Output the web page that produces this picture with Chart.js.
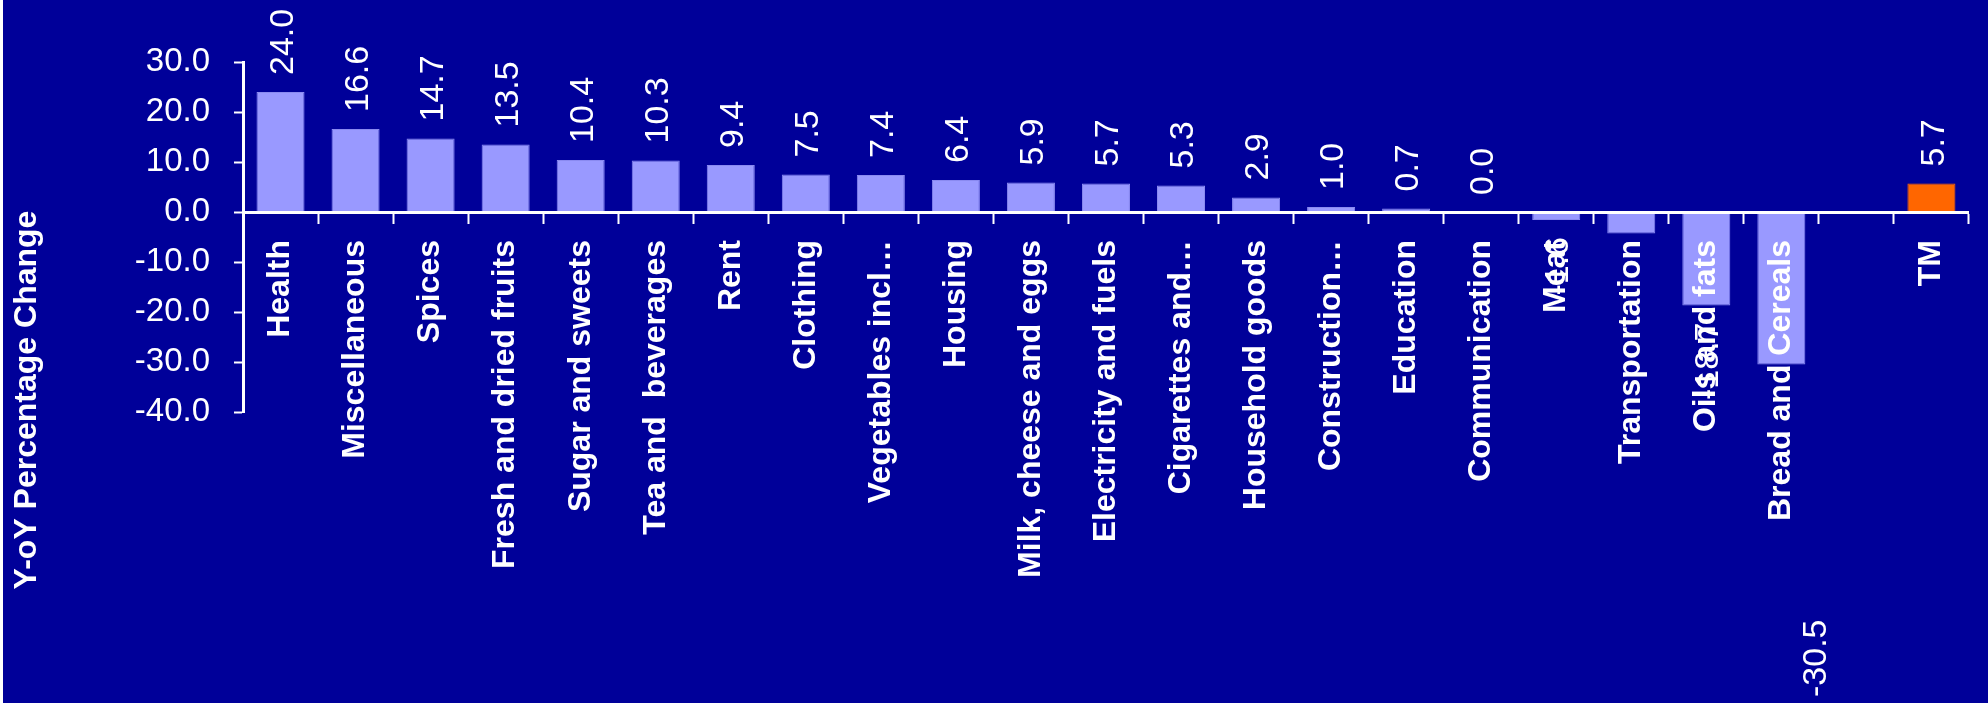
<!DOCTYPE html>
<html>
<head>
<meta charset="utf-8">
<title>Y-oY Percentage Change</title>
<script src="https://cdn.jsdelivr.net/npm/chart.js@4.4.1/dist/chart.umd.min.js"></script>
<style>
  html, body { margin: 0; padding: 0; background: #000099; }
  canvas { display: block; }
</style>
</head>
<body>
<canvas id="cv" width="1988" height="703"></canvas>
<script>
// ---------- Données ----------
const categories = [
  'Health', 'Miscellaneous', 'Spices', 'Fresh and dried fruits', 'Sugar and sweets',
  'Tea and  beverages', 'Rent', 'Clothing', 'Vegetables incl…', 'Housing',
  'Milk, cheese and eggs', 'Electricity and fuels', 'Cigarettes and…', 'Household goods',
  'Construction…', 'Education', 'Communication', 'Meat', 'Transportation',
  'Oils and fats', 'Bread and Cereals', '', 'TM'
];
const values = [
  24.0, 16.6, 14.7, 13.5, 10.4,
  10.3, 9.4, 7.5, 7.4, 6.4,
  5.9, 5.7, 5.3, 2.9,
  1.0, 0.7, 0.0, -1.6, -4.3,
  -18.7, -30.5, null, 5.7
];
const yTicks = [-40, -30, -20, -10, 0, 10, 20, 30];
const yTitle = 'Y-oY Percentage Change';
// catégories dont l'étiquette de valeur n'apparaît pas sur l'image
const hiddenValueLabels = ['Transportation'];

// ---------- Styles ----------
const FONT = "'Liberation Sans', Arial, sans-serif";
const BG = '#000099';
const WHITE = '#FFFFFF';
const barColors = categories.map(c => c === 'TM' ? '#FF6600' : '#9999FF');
const barBorders = categories.map(c => c === 'TM' ? '#FF6600' : '#8A8AF0');

// fond + liseré blanc à gauche + titre de l'axe Y
const backdrop = {
  id: 'backdrop',
  beforeDraw(chart) {
    const { ctx, width, height } = chart;
    ctx.save();
    ctx.fillStyle = BG;
    ctx.fillRect(0, 0, width, height);
    ctx.fillStyle = WHITE;
    ctx.fillRect(0, 0, 3, height);
    ctx.restore();
  },
  afterDraw(chart) {
    const { ctx } = chart;
    ctx.save();
    ctx.translate(36, 400);
    ctx.rotate(-Math.PI / 2);
    ctx.font = `bold 32px ${FONT}`;
    ctx.fillStyle = WHITE;
    ctx.textAlign = 'center';
    ctx.textBaseline = 'alphabetic';
    ctx.fillText(yTitle, 0, 0);
    ctx.restore();
  }
};

// étiquettes de valeur verticales
const valueLabels = {
  id: 'valueLabels',
  afterDraw(chart, args, opts) {
    const { ctx } = chart;
    const meta = chart.getDatasetMeta(0);
    const size = opts.size;
    ctx.save();
    ctx.font = `${size}px ${FONT}`;
    ctx.fillStyle = WHITE;
    ctx.textBaseline = 'alphabetic';
    meta.data.forEach((bar, i) => {
      const v = values[i];
      if (v == null || hiddenValueLabels.includes(categories[i])) return;
      const off = opts.offsets[categories[i]] || { dx: 0, dy: 0 };
      const txt = v.toFixed(1);
      const neg = v < 0;
      const y = neg ? bar.y + opts.gap : bar.y - opts.gap;
      ctx.save();
      ctx.translate(bar.x + off.dx, y + off.dy);
      ctx.rotate(-Math.PI / 2);
      ctx.textAlign = neg ? 'right' : 'left';
      ctx.fillText(txt, 0, 0.358 * size);
      ctx.restore();
    });
    ctx.restore();
  }
};

new Chart(document.getElementById('cv'), {
  type: 'bar',
  data: {
    labels: categories,
    datasets: [{
      data: values,
      backgroundColor: barColors,
      borderColor: barBorders,
      borderWidth: 1,
      categoryPercentage: 1.0,
      barPercentage: 0.64
    }]
  },
  options: {
    responsive: false,
    animation: false,
    devicePixelRatio: 1,
    layout: { padding: { left: 0, top: 62, right: 8, bottom: 291 } },
    plugins: {
      legend: { display: false },
      tooltip: { enabled: false },
      valueLabels: { size: 34, gap: 17, offsets: { 'Bread and Cereals': { dx: 32, dy: 238 } } }
    },
    scales: {
      x: {
        position: { y: 0 },
        afterFit: s => { s.height = 0; },
        grid: {
          display: true,
          offset: true,
          drawOnChartArea: false,
          drawTicks: true,
          tickLength: 10,
          tickWidth: 2,
          tickColor: WHITE,
          color: WHITE
        },
        border: { display: true, color: WHITE, width: 3, z: 1 },
        ticks: {
          z: 1,
          autoSkip: false,
          minRotation: 90,
          maxRotation: 90,
          padding: 18,
          color: WHITE,
          font: { family: FONT, size: 32, weight: 'bold' }
        }
      },
      y: {
        min: yTicks[0],
        max: yTicks[yTicks.length - 1],
        afterFit: s => { s.width = 243; },
        afterBuildTicks: s => { s.ticks = yTicks.map(v => ({ value: v })); },
        grid: {
          display: true,
          drawOnChartArea: false,
          drawTicks: true,
          tickLength: 9,
          tickWidth: 2,
          tickColor: WHITE,
          color: WHITE
        },
        border: { display: true, color: WHITE, width: 3 },
        ticks: {
          padding: 24,
          color: WHITE,
          font: { family: FONT, size: 33 },
          callback: v => Number(v).toFixed(1)
        }
      }
    }
  },
  plugins: [backdrop, valueLabels]
});
</script>
</body>
</html>
